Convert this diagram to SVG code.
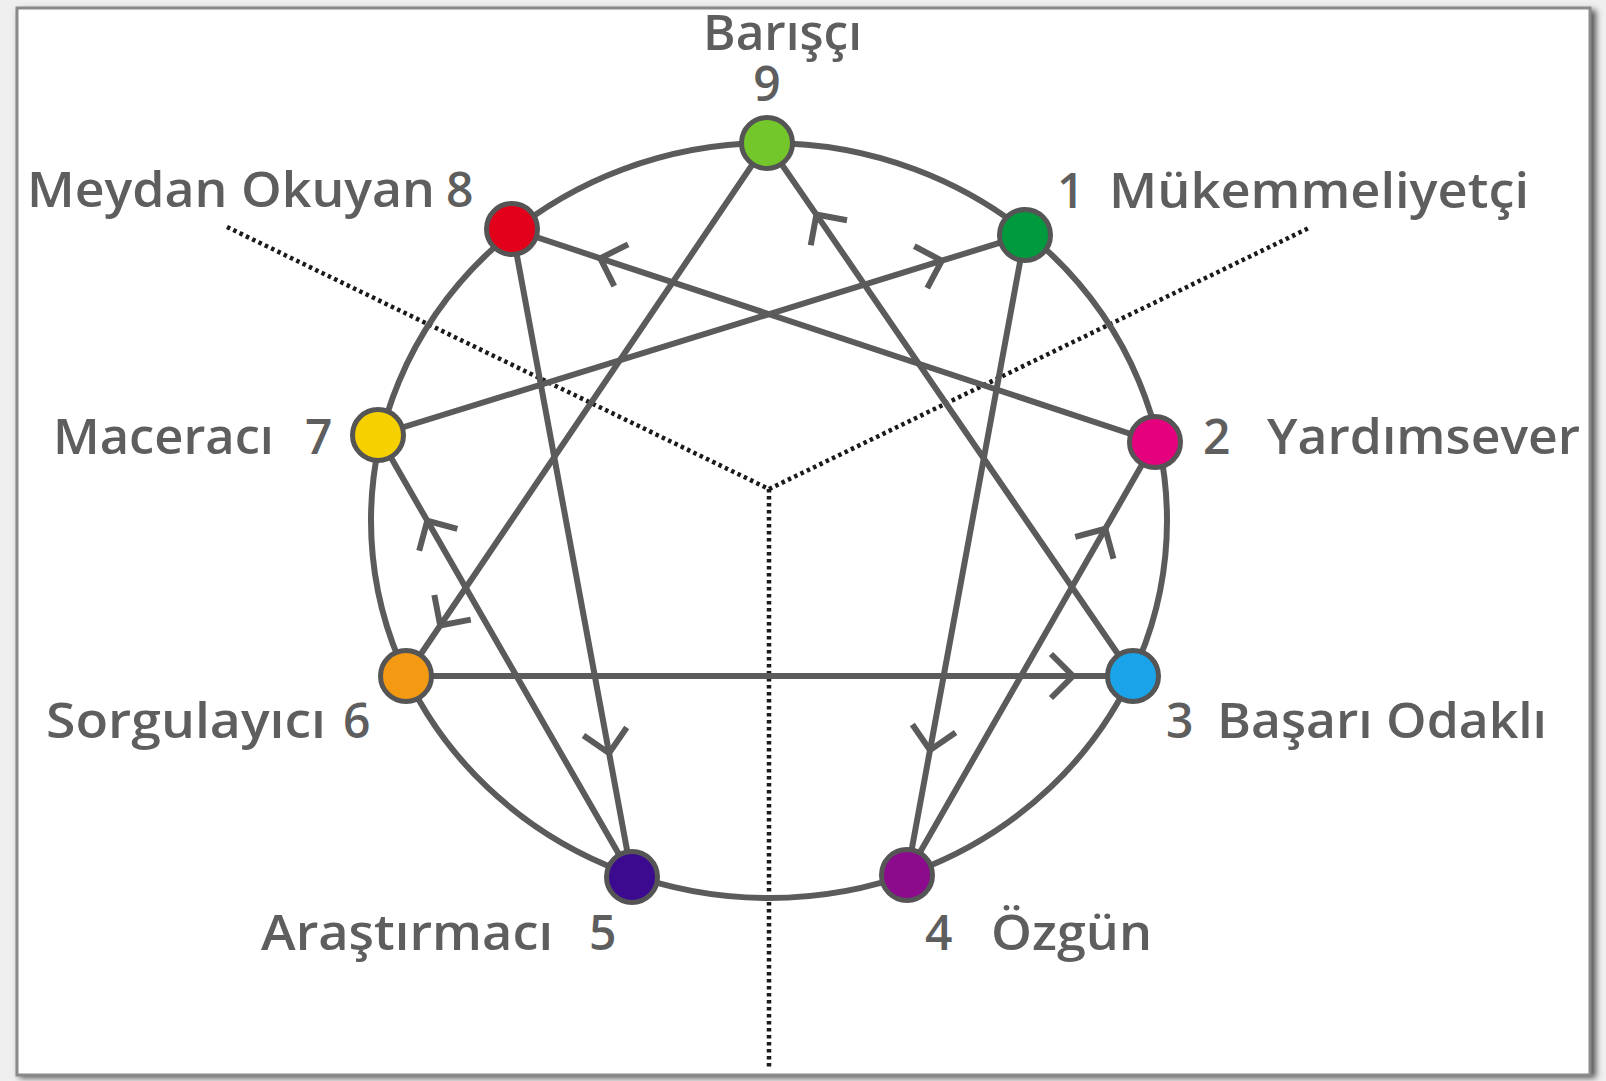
<svg xmlns="http://www.w3.org/2000/svg" width="1606" height="1081" viewBox="0 0 1606 1081">
<defs>
<style>
.lbl{font-family:"Open Sans","Noto Sans","Liberation Sans",sans-serif;font-weight:600;font-size:48px;fill:#5e5e5e}
.con{fill:none;stroke:#5b5b5b;stroke-width:6;marker-mid:url(#chev)}
.node{stroke:#555;stroke-width:5}
.dot{fill:none;stroke:#1a1a1a;stroke-width:4.5;stroke-dasharray:3.5 3.5}
</style>
<marker id="chev" markerUnits="userSpaceOnUse" markerWidth="60" markerHeight="60" viewBox="-30 -30 60 60" refX="0" refY="0" orient="auto">
<path d="M-22,-22 L0,0 L-22,22" fill="none" stroke="#5b5b5b" stroke-width="6" stroke-linecap="butt" stroke-linejoin="miter"/>
</marker>
<filter id="sh" x="-5%" y="-5%" width="110%" height="110%"><feGaussianBlur stdDeviation="3"/></filter>
</defs>
<rect x="0" y="0" width="1606" height="1081" fill="#efefef"/>
<rect x="19" y="10" width="1577" height="1068" fill="#555" filter="url(#sh)"/>
<rect x="17" y="8" width="1573" height="1067" fill="#fff" stroke="#8a8a8a" stroke-width="3"/>

<g id="dotted">
<polyline class="dot" points="227,227 769,489 1311,227"/>
<line class="dot" x1="769" y1="489" x2="769" y2="1068"/>
</g>

<ellipse id="ring" cx="769" cy="520.5" rx="398" ry="377.5" fill="none" stroke="#5b5b5b" stroke-width="6"/>

<g id="connectors">
<path class="con" d="M1155,442 L600.3,258.3 L512,229"/>
<path class="con" d="M1133,676 L816.4,214.6 L767,143"/>
<path class="con" d="M378,435 L941.8,260.7 L1025,235"/>
<path class="con" d="M406,676 L1073,676 L1133,676"/>
<path class="con" d="M907,875 L1105.3,528.8 L1155,442"/>
<path class="con" d="M632,877 L427.3,520.8 L378,435"/>
<path class="con" d="M767,143 L440.2,625.5 L406,676"/>
<path class="con" d="M512,229 L609.1,753.1 L632,877"/>
<path class="con" d="M1025,235 L930,750.1 L907,875"/>
</g>

<g id="n9"><circle class="node" cx="767" cy="143" r="25.5" fill="#74c72a"/>
<text class="lbl"><tspan x="703" y="50" textLength="159" lengthAdjust="spacingAndGlyphs">Barışçı</tspan><tspan x="767" y="101" text-anchor="middle">9</tspan></text></g>
<g id="n8"><circle class="node" cx="512" cy="229" r="25.5" fill="#e2001a"/>
<text class="lbl" y="207"><tspan x="27" textLength="408" lengthAdjust="spacingAndGlyphs">Meydan Okuyan</tspan><tspan x="446">8</tspan></text></g>
<g id="n1"><circle class="node" cx="1025" cy="235" r="25.5" fill="#009a3e"/>
<text class="lbl" y="208"><tspan x="1057">1</tspan><tspan x="1109" textLength="420" lengthAdjust="spacingAndGlyphs">Mükemmeliyetçi</tspan></text></g>
<g id="n7"><circle class="node" cx="378" cy="435" r="25.5" fill="#f7d000"/>
<text class="lbl" y="454"><tspan x="53" textLength="221" lengthAdjust="spacingAndGlyphs">Maceracı</tspan><tspan x="305">7</tspan></text></g>
<g id="n2"><circle class="node" cx="1155" cy="442" r="25.5" fill="#e5007d"/>
<text class="lbl" y="454"><tspan x="1203">2</tspan><tspan x="1267" textLength="313" lengthAdjust="spacingAndGlyphs">Yardımsever</tspan></text></g>
<g id="n6"><circle class="node" cx="406" cy="676" r="25.5" fill="#f39a12"/>
<text class="lbl" y="738"><tspan x="46" textLength="280" lengthAdjust="spacingAndGlyphs">Sorgulayıcı</tspan><tspan x="343">6</tspan></text></g>
<g id="n3"><circle class="node" cx="1133" cy="676" r="25.5" fill="#1aa3e8"/>
<text class="lbl" y="738"><tspan x="1166">3</tspan><tspan x="1217" textLength="330" lengthAdjust="spacingAndGlyphs">Başarı Odaklı</tspan></text></g>
<g id="n5"><circle class="node" cx="632" cy="877" r="25.5" fill="#3b0a8f"/>
<text class="lbl" y="950"><tspan x="261" textLength="292" lengthAdjust="spacingAndGlyphs">Araştırmacı</tspan><tspan x="589">5</tspan></text></g>
<g id="n4"><circle class="node" cx="907" cy="875" r="25.5" fill="#8c0a8c"/>
<text class="lbl" y="950"><tspan x="925">4</tspan><tspan x="991" textLength="161" lengthAdjust="spacingAndGlyphs">Özgün</tspan></text></g>
</svg>
